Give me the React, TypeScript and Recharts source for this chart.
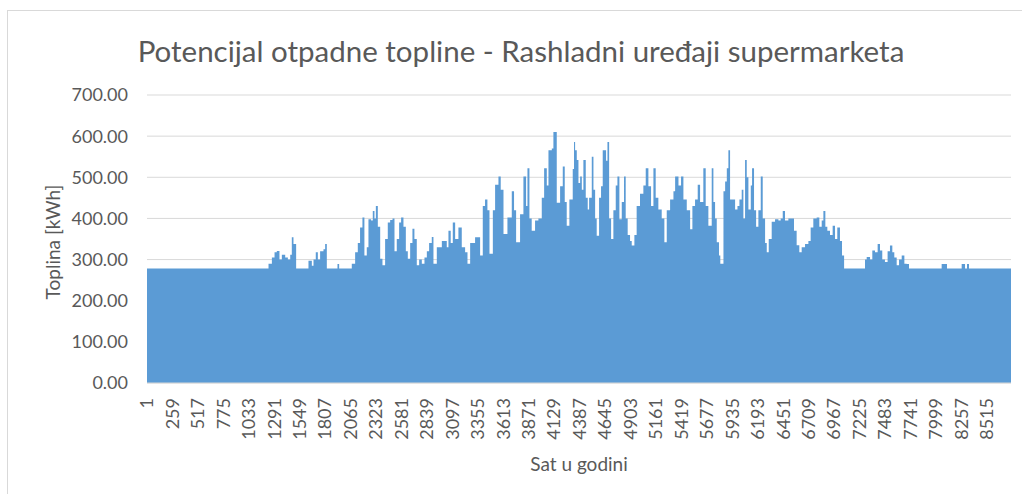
import { AreaChart, Area, XAxis, YAxis, CartesianGrid } from "recharts";

// ─── Data (hour of year → heat in kWh, stepped) ──────────────────────────────
const HOURS = [
  1, 1233, 1267, 1294, 1317, 1344, 1368, 1402, 1429, 1453, 1469, 1486, 1513,
  1638, 1672, 1689, 1712, 1733, 1756, 1790, 1807, 1824, 1932, 1949,
  2077, 2111, 2138, 2161, 2185, 2205, 2229, 2246, 2273, 2290, 2307, 2321, 2341, 2365, 2388,
  2415, 2442, 2466, 2490, 2510, 2533, 2557, 2577, 2601, 2625, 2645, 2669, 2692, 2712, 2736,
  2760, 2787, 2814, 2838, 2861, 2888,
  2905, 2939, 2990, 3040, 3057, 3080, 3101, 3125, 3158, 3192, 3226, 3250, 3277, 3327, 3378,
  3405, 3428, 3452, 3473, 3507, 3530, 3564, 3587, 3615, 3655, 3699, 3722, 3743, 3783, 3817,
  3844, 3858, 3878, 3901, 3935, 3969, 4003, 4027, 4054, 4071, 4105, 4121, 4142, 4155, 4189,
  4216, 4236, 4256, 4283, 4317, 4330,
  4341, 4358, 4375, 4392, 4409, 4425, 4449, 4469, 4483, 4510, 4527, 4544, 4560, 4584, 4604,
  4621, 4655, 4669, 4686, 4706, 4729, 4753, 4770, 4790, 4814, 4837, 4854, 4874, 4898, 4915,
  4942, 4965, 4999, 5033, 5057, 5084, 5111, 5135, 5158, 5185, 5219, 5246, 5270, 5304, 5338,
  5355, 5389, 5415, 5439, 5473, 5507, 5530, 5557, 5584, 5608, 5641, 5665, 5692, 5726, 5743,
  5760, 5777, 5800, 5813,
  5845, 5862, 5879, 5895, 5912, 5939, 5963, 5987, 6007, 6030, 6047, 6064, 6081, 6098, 6122,
  6135, 6155, 6176, 6199, 6223, 6243, 6267, 6284, 6304, 6334, 6368, 6402, 6425, 6446, 6469,
  6503, 6537, 6560, 6587, 6614, 6638, 6672, 6706, 6729, 6756, 6790, 6817, 6841, 6858, 6878,
  6898, 6925, 6952, 6976, 6999, 7026, 7047, 7068,
  7280, 7297, 7331, 7354, 7381, 7408, 7432, 7455, 7482, 7509, 7533, 7557, 7577, 7601, 7625,
  7652, 7679, 7702, 7726,
  8057, 8111, 8260, 8294, 8314, 8334, 8760,
];

const HEAT = [
  278, 290, 305, 318, 321, 300, 312, 305, 300, 312, 354, 338, 278,
  297, 285, 300, 318, 300, 320, 325, 338, 278, 289, 278,
  290, 318, 340, 378, 402, 310, 330, 398, 395, 418, 400, 430, 380, 302, 286,
  350, 390, 396, 400, 320, 350, 390, 402, 380, 320, 302, 340, 375, 350, 286,
  300, 290, 305, 320, 340, 355,
  290, 330, 345, 330, 370, 340, 390, 350, 378, 330, 318, 290, 340, 354, 310,
  430, 446, 420, 314, 420, 482, 502, 470, 362, 402, 466, 420, 342, 410, 502,
  430, 522, 400, 370, 395, 400, 450, 522, 480, 566, 570, 610, 610, 438, 478,
  526, 440, 382, 446, 520, 586,
  566, 542, 486, 502, 470, 542, 450, 422, 450, 550, 470, 400, 358, 450, 478,
  566, 540, 586, 400, 350, 420, 480, 502, 398, 440, 502, 400, 360, 345, 334,
  360, 430, 460, 480, 522, 478, 430, 522, 450, 422, 400, 342, 420, 446, 466,
  502, 480, 502, 446, 420, 374, 430, 446, 482, 440, 522, 430, 382, 522, 440,
  400, 342, 310, 290,
  466, 490, 522, 566, 446, 446, 422, 430, 446, 470, 400, 542, 500, 422, 480,
  522, 420, 380, 420, 502, 400, 340, 318, 350, 392, 398, 395, 400, 418, 395,
  400, 400, 370, 335, 318, 330, 338, 345, 378, 400, 402, 380, 395, 418, 380,
  370, 360, 382, 350, 378, 345, 310, 278,
  300, 306, 300, 322, 318, 338, 322, 300, 294, 320, 334, 318, 305, 286, 300,
  310, 290, 289, 278,
  289, 278, 289, 278, 289, 278, 278,
];

const X_TICKS = [
  1, 259, 517, 775, 1033, 1291, 1549, 1807, 2065, 2323, 2581, 2839, 3097, 3355, 3613, 3871, 4129,
  4387, 4645, 4903, 5161, 5419, 5677, 5935, 6193, 6451, 6709, 6967, 7225, 7483, 7741, 7999, 8257, 8515,
];
const Y_TICKS = [0, 100, 200, 300, 400, 500, 600, 700];

const data = HOURS.map((hour, i) => ({ hour, heat: HEAT[i] }));

const FONT = "Lato, 'Open Sans', sans-serif";
const GREY = "#595959";
const BLUE = "#5B9BD5";

// rotated hour labels under the axis
function HourTick({ x, y, payload }: any) {
  return (
    <text x={x} y={y} transform={`rotate(-90 ${x} ${y})`} textAnchor="end" dy="0.35em"
      fontSize={18} fontFamily={FONT} fill={GREY}>
      {payload.value}
    </text>
  );
}

export default function App() {
  return (
    <div style={{ position: "fixed", left: 0, top: 0, width: 1022, height: 494, overflow: "hidden", background: "#fff" }}>
      <div style={{ position: "absolute", left: 7, top: 10, width: 1100, height: 600, border: "1px solid #D9D9D9" }} />
      <div style={{ position: "absolute", left: 0, top: 32, width: 1042, textAlign: "center",
        fontFamily: FONT, fontSize: 29.5, color: GREY, lineHeight: "38px" }}>
        Potencijal otpadne topline - Rashladni uređaji supermarketa
      </div>
      <div style={{ position: "absolute", left: 52, top: 242, transform: "translate(-50%, -50%) rotate(-90deg)",
        whiteSpace: "nowrap", fontFamily: FONT, fontSize: 19, color: GREY }}>
        Toplina [kWh]
      </div>
      <div style={{ position: "absolute", left: 579, top: 463, transform: "translate(-50%, -50%)",
        whiteSpace: "nowrap", fontFamily: FONT, fontSize: 19, color: GREY }}>
        Sat u godini
      </div>
      <div style={{ position: "absolute", left: 0, top: 0 }}>
        <AreaChart width={1022} height={494} data={data} margin={{ top: 95, right: 11, bottom: 51, left: 87 }}>
          <CartesianGrid stroke="#D9D9D9" vertical={false} />
          <XAxis type="number" dataKey="hour" domain={[1, 8760]} ticks={X_TICKS} interval={0}
            height={60} tickSize={0} tickMargin={15} axisLine={{ stroke: "#D9D9D9" }} tick={<HourTick />} />
          <YAxis domain={[0, 700]} ticks={Y_TICKS} width={60} tickSize={0} tickMargin={19} axisLine={false}
            tickFormatter={(v: number) => v.toFixed(2)}
            tick={{ fontSize: 18, fontFamily: FONT, fill: GREY }} />
          <Area type="stepAfter" dataKey="heat" stroke="none" fill={BLUE} fillOpacity={1} isAnimationActive={false} />
        </AreaChart>
      </div>
    </div>
  );
}
